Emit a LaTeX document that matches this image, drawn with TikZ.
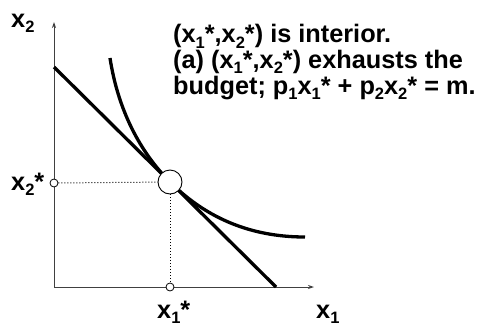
\documentclass[tikz,border=0pt]{standalone}
\usepackage{fontspec}
\setmainfont{Liberation Sans}
\usepackage{tikz}
\usetikzlibrary{arrows.meta, positioning}

\newcommand{\lowsub}[1]{\raisebox{-5.5pt}{\fontsize{16.5}{16.5}\selectfont #1}}

\begin{document}
\begin{tikzpicture}[
    x=1pt, y=-1pt,
    font=\fontsize{25.3}{25.7}\selectfont\bfseries,
    axis/.style={
        draw=black!75,
        line width=1pt,
        -{Stealth[length=6pt, width=4pt]}
    },
    budget/.style={
        line width=3.3pt
    },
    indiff/.style={
        line width=3.3pt
    },
    guide/.style={
        dotted,
        line width=1pt
    },
    bigdot/.style={
        circle,
        draw,
        fill=white,
        minimum size=24pt,
        inner sep=0pt,
        line width=0.9pt
    },
    tick/.style={
        circle,
        draw,
        fill=white,
        minimum size=8pt,
        inner sep=0pt,
        line width=0.8pt
    },
    lbl/.style={
        inner sep=0pt,
        anchor=base west
    }
]
\useasboundingbox (0,0) rectangle (493,327);

\coordinate (origin) at (54,287);
\coordinate (ytop) at (54,22);
\coordinate (xend) at (314,287);
\coordinate (bstart) at (54,67);
\coordinate (bend) at (276,287);

\draw[axis] (origin) -- (ytop);
\draw[axis] (origin) -- (xend);

\node[lbl] (ylab) at (11,27) {x\lowsub{2}};
\node[lbl] (xlab) at (316,318) {x\lowsub{1}};

% budget line and indifference curve
\draw[budget] (bstart) -- (bend);
\draw[indiff] (110,58) .. controls (118,110) and (140,152) .. (170,182)
    .. controls (212,224) and (260,237) .. (305,237);

% optimum and its coordinates
\node[bigdot] (opt) at (170,182) {};
\node[tick] (xtwo) at (54,183) {};
\node[tick] (xone) at (170,287) {};
\draw[guide] (xtwo) -- (opt);
\draw[guide] (opt) -- (xone);

\node[lbl] (xtwolab) at (11,190) {x\lowsub{2}*};
\node[lbl] (xonelab) at (157,318) {x\lowsub{1}*};

\node[lbl, align=left] (note) at (173,94)
    {(x\lowsub{1}*,x\lowsub{2}*) is interior.\\
     (a) (x\lowsub{1}*,x\lowsub{2}*) exhausts the\\
     budget; p\lowsub{1}x\lowsub{1}* + p\lowsub{2}x\lowsub{2}* = m.};

\end{tikzpicture}
\end{document}
